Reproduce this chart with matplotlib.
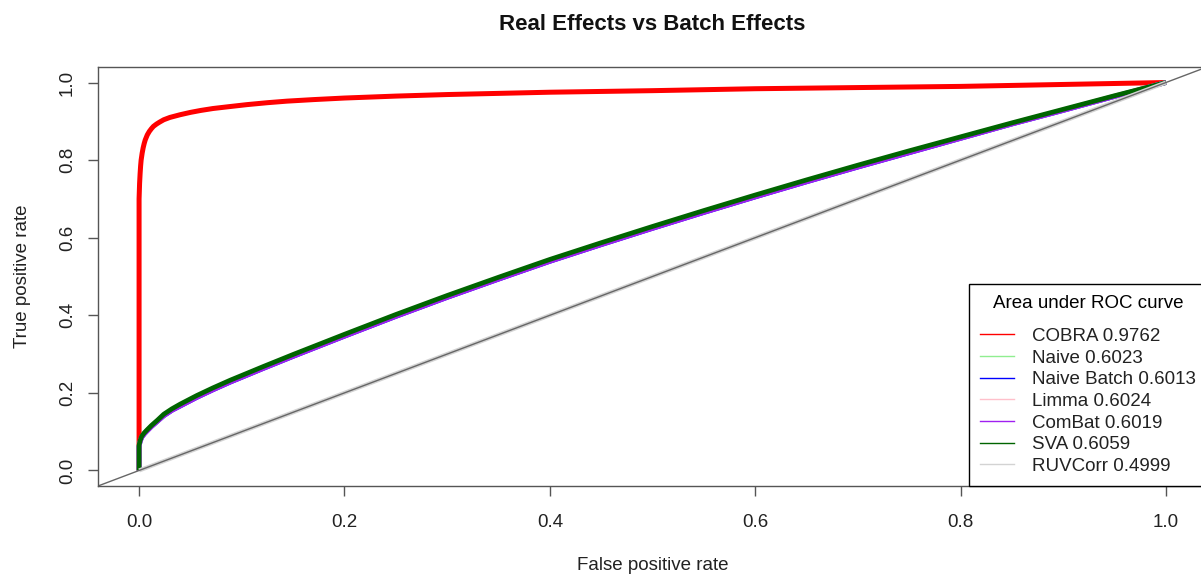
import numpy as np
import matplotlib.pyplot as plt

plt.rcParams['font.family'] = ['Liberation Sans', 'DejaVu Sans']

# ROC 曲線資料
fpr_cobra = [0, 0, 0.0005, 0.001, 0.0015, 0.002, 0.003, 0.004, 0.005, 0.006, 0.008,
             0.010, 0.012, 0.014, 0.017, 0.020, 0.024, 0.030, 0.040, 0.050, 0.060,
             0.072, 0.085, 0.105, 0.125, 0.144, 0.17, 0.2, 0.25, 0.3, 0.35, 0.4,
             0.5, 0.6, 0.7, 0.8, 0.9, 1.0]
tpr_cobra = [0, 0.70, 0.74, 0.765, 0.785, 0.800, 0.818, 0.832, 0.843, 0.852, 0.865,
             0.874, 0.881, 0.887, 0.893, 0.898, 0.904, 0.910, 0.917, 0.923, 0.928,
             0.933, 0.937, 0.943, 0.948, 0.952, 0.956, 0.960, 0.965, 0.969, 0.972, 0.975,
             0.979, 0.984, 0.987, 0.990, 0.995, 1.0]

fpr_base = [0, 0, 0.001, 0.0025, 0.005, 0.0075, 0.012, 0.018, 0.024, 0.032, 0.040,
            0.056, 0.072, 0.089, 0.1, 0.121, 0.15, 0.2, 0.25, 0.3, 0.35, 0.4, 0.45,
            0.5, 0.55, 0.6, 0.65, 0.7, 0.75, 0.8, 0.85, 0.9, 0.95, 1.0]
tpr_naive = [0, 0.063, 0.075, 0.086, 0.095, 0.102, 0.114, 0.128, 0.142, 0.156, 0.168,
             0.190, 0.210, 0.230, 0.242, 0.265, 0.296, 0.348, 0.399, 0.448, 0.495, 0.541, 0.584,
             0.626, 0.667, 0.707, 0.746, 0.784, 0.821, 0.857, 0.894, 0.929, 0.965, 1.0]
tpr_naive_batch = [0, 0.062, 0.074, 0.085, 0.094, 0.101, 0.113, 0.127, 0.141, 0.155, 0.166,
                   0.188, 0.208, 0.228, 0.240, 0.263, 0.294, 0.346, 0.397, 0.446, 0.493, 0.539, 0.582,
                   0.624, 0.665, 0.705, 0.744, 0.782, 0.819, 0.856, 0.893, 0.928, 0.964, 1.0]
tpr_limma = [0, 0.063, 0.075, 0.086, 0.095, 0.102, 0.114, 0.128, 0.142, 0.156, 0.168,
             0.190, 0.210, 0.230, 0.242, 0.265, 0.296, 0.348, 0.399, 0.448, 0.495, 0.541, 0.584,
             0.626, 0.667, 0.707, 0.746, 0.784, 0.821, 0.857, 0.894, 0.929, 0.965, 1.0]
tpr_combat = [0, 0.062, 0.074, 0.085, 0.094, 0.101, 0.113, 0.127, 0.141, 0.155, 0.166,
              0.188, 0.208, 0.228, 0.240, 0.263, 0.294, 0.346, 0.397, 0.446, 0.493, 0.539, 0.582,
              0.624, 0.665, 0.705, 0.744, 0.782, 0.819, 0.856, 0.893, 0.928, 0.964, 1.0]
tpr_sva = [0, 0.065, 0.077, 0.088, 0.097, 0.104, 0.116, 0.130, 0.145, 0.159, 0.171,
           0.193, 0.213, 0.233, 0.245, 0.268, 0.299, 0.351, 0.402, 0.451, 0.498, 0.544, 0.587,
           0.629, 0.670, 0.710, 0.749, 0.787, 0.824, 0.860, 0.896, 0.931, 0.966, 1.0]
fpr_ruv = [0, 1.0]
tpr_ruv = [0, 1.0]

labels = ['COBRA 0.9762', 'Naive 0.6023', 'Naive Batch 0.6013', 'Limma 0.6024',
          'ComBat 0.6019', 'SVA 0.6059', 'RUVCorr 0.4999']
colors = ['red', '#90EE90', 'blue', '#FFC0CB', '#A020F0', '#006400', '#D3D3D3']

fig = plt.figure(figsize=(12.01, 5.75), dpi=100)
ax = fig.add_axes([98 / 1201, 89 / 575, 1109 / 1201, 419 / 575])

curves = [(fpr_cobra, tpr_cobra), (fpr_base, tpr_naive), (fpr_base, tpr_naive_batch),
          (fpr_base, tpr_limma), (fpr_base, tpr_combat), (fpr_base, tpr_sva),
          (fpr_ruv, tpr_ruv)]
widths = [3.6, 3.4, 3.4, 3.4, 3.4, 3.4, 3]
for (x, y), c, w in zip(curves, colors, widths):
    ax.plot(x, y, color=c, lw=w, solid_capstyle='butt', solid_joinstyle='round')

# 對角參考線
ax.axline((0, 0), slope=1, color='#666666', lw=1)

ax.set_xlim(-0.04, 1.04)
ax.set_ylim(-0.04, 1.04)
ticks = [0.0, 0.2, 0.4, 0.6, 0.8, 1.0]
ax.set_xticks(ticks)
ax.set_yticks(ticks)
ax.set_xticklabels([f'{t:.1f}' for t in ticks], fontsize=13.5, color='#222222')
ax.set_yticklabels([f'{t:.1f}' for t in ticks], fontsize=13.5, rotation=90,
                   va='center', color='#222222')
ax.tick_params(direction='out', length=7.2, width=1, color='#555555')
ax.tick_params(axis='x', pad=13)
ax.tick_params(axis='y', pad=8.6)
for s in ax.spines.values():
    s.set_color('#555555')
    s.set_linewidth(1)

ax.set_xlabel('False positive rate', fontsize=13.5, labelpad=19, color='#222222')
ax.set_ylabel('True positive rate', fontsize=13.5, labelpad=20, color='#222222')
fig.text(652 / 1201, 1 - 24 / 575, 'Real Effects vs Batch Effects', fontsize=16,
         fontweight='bold', ha='center', va='center', color='#111111')

handles = [plt.Line2D([], [], color=c, lw=1) for c in colors]
leg = ax.legend(handles, labels, loc='lower right', title='Area under ROC curve',
                fontsize=13.5, title_fontsize=13.5, frameon=True, fancybox=False,
                borderaxespad=0, handlelength=1.8, handletextpad=0.95,
                labelspacing=0.24, borderpad=0.6, framealpha=1)
leg.get_frame().set_edgecolor('black')
leg.get_frame().set_linewidth(1)
# 標題與項目之間多留一點空間
leg._legend_box.sep = 11.5
for t in leg.get_texts():
    t.set_color('#222222')

fig.savefig('out.png', dpi=100)
